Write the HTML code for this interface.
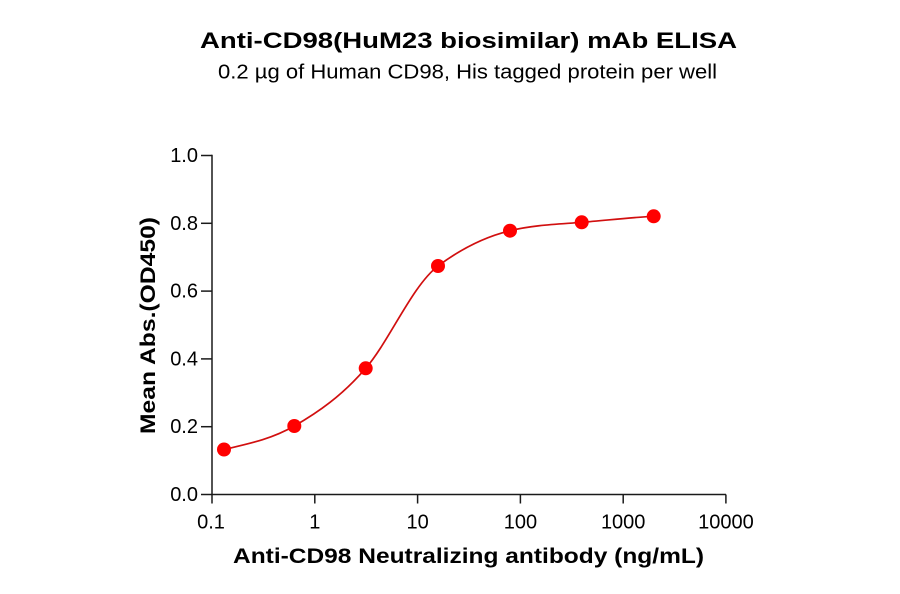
<!DOCTYPE html>
<html>
<head>
<meta charset="utf-8">
<style>
  html,body{margin:0;padding:0;background:#fff;}
  svg{display:block;}
  text{font-family:"Liberation Sans", Arial, sans-serif;fill:#000;}
</style>
</head>
<body>
<svg width="900" height="594" viewBox="0 0 900 594" xmlns="http://www.w3.org/2000/svg">
  <rect width="900" height="594" fill="#fff"/>

  <!-- Titles -->
  <text x="200" y="48" font-size="22.5" font-weight="bold" textLength="537" lengthAdjust="spacingAndGlyphs">Anti-CD98(HuM23 biosimilar) mAb ELISA</text>
  <text x="218" y="78.5" font-size="20" textLength="499" lengthAdjust="spacingAndGlyphs">0.2 µg of Human CD98, His tagged protein per well</text>

  <!-- Axes -->
  <g stroke="#1a1a1a" stroke-width="1.5" fill="none">
    <line x1="212" y1="154.8" x2="212" y2="495"/>
    <line x1="211.3" y1="494.5" x2="726" y2="494.5"/>
    <!-- y ticks -->
    <line x1="201" y1="494.5" x2="212" y2="494.5"/>
    <line x1="201" y1="426.7" x2="212" y2="426.7"/>
    <line x1="201" y1="358.9" x2="212" y2="358.9"/>
    <line x1="201" y1="291.1" x2="212" y2="291.1"/>
    <line x1="201" y1="223.3" x2="212" y2="223.3"/>
    <line x1="201" y1="155.5" x2="212" y2="155.5"/>
    <!-- x ticks -->
    <line x1="212" y1="494.5" x2="212" y2="503.5"/>
    <line x1="314.8" y1="494.5" x2="314.8" y2="503.5"/>
    <line x1="417.6" y1="494.5" x2="417.6" y2="503.5"/>
    <line x1="520.4" y1="494.5" x2="520.4" y2="503.5"/>
    <line x1="623.2" y1="494.5" x2="623.2" y2="503.5"/>
    <line x1="725.9" y1="494.5" x2="725.9" y2="503.5"/>
  </g>

  <!-- Y tick labels -->
  <g font-size="20" text-anchor="end">
    <text x="198" y="501">0.0</text>
    <text x="198" y="433.2">0.2</text>
    <text x="198" y="365.4">0.4</text>
    <text x="198" y="297.6">0.6</text>
    <text x="198" y="229.8">0.8</text>
    <text x="198" y="162">1.0</text>
  </g>

  <!-- X tick labels -->
  <g font-size="20" text-anchor="middle">
    <text x="211" y="528.5">0.1</text>
    <text x="314.8" y="528.5">1</text>
    <text x="417.6" y="528.5">10</text>
    <text x="520.4" y="528.5">100</text>
    <text x="623.2" y="528.5">1000</text>
    <text x="725.9" y="528.5">10000</text>
  </g>

  <!-- Axis titles -->
  <text x="233" y="563" font-size="21" font-weight="bold" textLength="471" lengthAdjust="spacingAndGlyphs">Anti-CD98 Neutralizing antibody (ng/mL)</text>
  <text transform="translate(155,434) rotate(-90)" x="0" y="0" font-size="21" font-weight="bold" textLength="217" lengthAdjust="spacingAndGlyphs">Mean Abs.(OD450)</text>

  <!-- Fitted curve -->
  <path d="M224,449.5 C247.4,444 270.7,439.5 294.3,426
           C317.9,412.5 341.8,396.0 365.7,368.3
           C389.6,340.6 412.0,286.0 438,266
           C462.0,248.0 486.05,236.5 510,230.7
           C533.95,224.9 557.75,224.2 581.7,222.3
           C605.65,220.4 629.7,217.5 653.7,216.3"
        fill="none" stroke="#d10f0f" stroke-width="1.7"/>

  <!-- Data points -->
  <g fill="#ff0000">
    <circle cx="224" cy="449.5" r="7"/>
    <circle cx="294.3" cy="426" r="7"/>
    <circle cx="365.7" cy="368.3" r="7"/>
    <circle cx="438" cy="266" r="7"/>
    <circle cx="510" cy="230.7" r="7"/>
    <circle cx="581.7" cy="222.3" r="7"/>
    <circle cx="653.7" cy="216.3" r="7"/>
  </g>
</svg>
</body>
</html>
